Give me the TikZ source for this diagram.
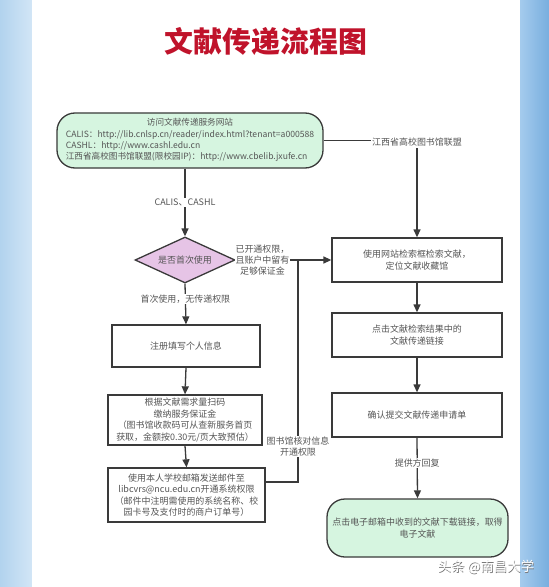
\documentclass[tikz,border=0pt]{standalone}
\usepackage{fontspec}
\setmainfont{Noto Sans CJK SC}
\usetikzlibrary{shapes.geometric,arrows.meta,calc}
\definecolor{ln}{HTML}{3A3A3A}
\definecolor{txt}{HTML}{555555}
\definecolor{greenf}{HTML}{D6F5E0}
\definecolor{pinkf}{HTML}{E6C4E6}
\definecolor{titlered}{HTML}{C0132B}
\definecolor{bgleft}{HTML}{B2D3EE}
\definecolor{bgleftb}{HTML}{D3E6F6}
\definecolor{bgright}{HTML}{78AEDE}
\definecolor{bgrightb}{HTML}{A6CCEE}
\newcommand\fsn{\fontsize{9}{11.4}\selectfont}
\newcommand\fsu{\fontsize{8.65}{11.3}\selectfont}
\begin{document}
\begin{tikzpicture}[x=1bp,y=-1bp,
  conn/.style={draw=ln, line width=1.3bp},
  arr/.style={conn, -{Triangle[length=8bp,width=7bp]}},
  stepbox/.style={draw=ln, line width=1.3bp, fill=white, minimum width=170bp, minimum height=44bp, inner sep=2bp, align=center, font=\fsn, text=txt},
  term/.style={draw=ln, line width=1.3bp, fill=greenf, rounded corners=18bp, inner sep=2bp, align=center, text=txt},
  lbl/.style={fill=white, inner sep=1bp, font=\fsn, text=txt, align=center}]
\useasboundingbox (0,0) rectangle (549,587);
% background
\shade[left color=bgleft, right color=bgleftb] (0,0) rectangle (33,587);
\shade[left color=bgrightb, right color=bgright] (519,0) rectangle (549,587);
\fill[white] (32,0) rectangle (520,587);
% title
\node[font=\fontsize{29}{32}\selectfont\bfseries, text=titlered] (title) at (266,41) {文献传递流程图};
% top terminal
\node[term, minimum width=266bp, minimum height=55bp, font=\fsu] (top) at (190,140.5) {%
\begin{tabular}{@{}l@{}}\multicolumn{1}{@{}c@{}}{访问文献传递服务网站}\\
CALIS：http://lib.cnlsp.cn/reader/index.html?tenant=a000588\\
CASHL：http://www.cashl.edu.cn\\
江西省高校图书馆联盟(限校园IP)：http://www.cbelib.jxufe.cn\end{tabular}};
% decision
\node[diamond, draw=ln, line width=1.3bp, fill=pinkf, minimum width=100bp, minimum height=46bp, inner sep=0pt, aspect=2.2, font=\fsn, text=txt] (d) at (185,260) {是否首次使用};
% right column
\node[stepbox] (b1) at (417,260) {使用网站检索框检索文献，\\定位文献收藏馆};
\node[stepbox] (b2) at (417,335) {点击文献检索结果中的\\文献传递链接};
\node[stepbox] (b3) at (417,415) {确认提交文献传递申请单};
\node[term, minimum width=181bp, minimum height=58bp, font=\fsn] (fin) at (417.5,528) {点击电子邮箱中收到的文献下载链接，取得\\电子文献};
% left column
\node[stepbox, minimum width=148bp, minimum height=42bp] (reg) at (186,346) {注册填写个人信息};
\node[stepbox, minimum width=154bp, minimum height=50bp, inner sep=1bp] (pay) at (185,420) {根据文献需求量扫码\\缴纳服务保证金\\（图书馆收款码可从查新服务首页\\获取，金额按0.30元/页大致预估）};
\node[stepbox, minimum width=157bp, minimum height=54bp, inner sep=1bp] (mail) at (186.5,495) {使用本人学校邮箱发送邮件至\\libcvrs@ncu.edu.cn开通系统权限\\（邮件中注明需使用的系统名称、校\\园卡号及支付时的商户订单号）};
\coordinate (j) at (298,260);
% connectors
\draw[arr] (top.east) -| node[lbl, pos=0.5, yshift=-2bp] {江西省高校图书馆联盟} (b1.north);
\draw[arr] (d.north |- top.south) -- node[lbl, pos=0.5] {CALIS、CASHL} (d.north);
\draw[arr] (d.east) -- node[lbl, pos=0.28] {已开通权限，\\且账户中留有\\足够保证金} (b1.west);
\draw[conn] ([yshift=13bp]mail.east) -| node[lbl, pos=0.58] {图书馆核对信息\\开通权限} (j);
\draw[arr] (d.south) -- node[lbl, pos=0.38] {首次使用，无传递权限} (reg.north);
\draw[arr] (reg.south) -- (pay.north);
\draw[arr] (pay.south) -- (mail.north);
\draw[arr] (b1.south) -- (b2.north);
\draw[arr] (b2.south) -- (b3.north);
\draw[arr] (b3.south) -- node[lbl, pos=0.42] {提供方回复} (fin.north);
% watermark
\node[font=\fontsize{13.5}{14}\selectfont, text=black!55] (wmshadow) at (486.6,567.6) {头条 @南昌大学};
\node[font=\fontsize{13.5}{14}\selectfont, text=white] (wm) at (486,567) {头条 @南昌大学};
\end{tikzpicture}
\end{document}
